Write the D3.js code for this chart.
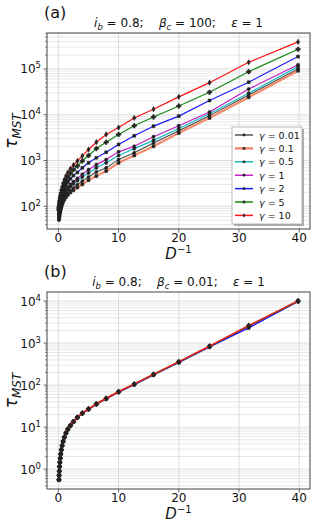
<!DOCTYPE html>
<html>
<head>
<meta charset="utf-8">
<script src="https://cdn.jsdelivr.net/npm/d3@7"></script>
<style>
  body { margin: 0; background: #fff; }
  text { font-family: "DejaVu Sans", sans-serif; fill: #111; }
</style>
</head>
<body>
<div id="chart"></div>
<script>
// x values: D^-1
const invD = [0.1, 0.126, 0.158, 0.2, 0.251, 0.316, 0.398, 0.501, 0.631, 0.794,
  1, 1.26, 1.58, 2, 2.51, 3.16, 3.98, 5.01, 6.31, 7.94, 10, 12.6, 15.8, 20, 25.1, 31.6, 39.8];

const gammas = ["0.01", "0.1", "0.5", "1", "2", "5", "10"];
const colors = ["#4a4a4a", "#f38b6c", "#16b8c2", "#c021c4", "#1a1aff", "#138913", "#ff1414"];
const widths = [1.1, 2.2, 1.2, 1.2, 1.2, 1.2, 1.2];

// panel (a): beta_c = 100
const tauA_g001 = [50, 54, 58, 63, 69, 76, 85, 95, 110, 126, 145, 166, 191, 219, 251, 295, 355, 437, 562, 692, 1047, 1479, 2399, 4467, 9550, 26920, 100000];
const tauA_g01  = [54, 58, 62, 68, 74, 81, 89, 100, 112, 126, 141, 158, 178, 200, 224, 257, 302, 372, 457, 589, 891, 1288, 2042, 3981, 8511, 23990, 91200];
const tauA_g05  = [65, 71, 78, 85, 93, 102, 115, 129, 145, 162, 182, 204, 234, 269, 309, 363, 437, 537, 692, 891, 1288, 1820, 2754, 5012, 10470, 29510, 112200];
const tauA_g1   = [69, 76, 83, 91, 100, 112, 126, 141, 158, 178, 200, 229, 263, 302, 347, 407, 501, 631, 813, 1047, 1549, 2042, 3311, 5754, 11480, 36310, 123000];
const tauA_g2   = [78, 85, 93, 105, 117, 132, 148, 170, 195, 224, 257, 295, 339, 398, 468, 550, 692, 891, 1148, 1514, 2239, 3467, 5623, 9333, 20420, 51290, 186200];
const tauA_g5   = [85, 93, 102, 115, 129, 148, 170, 195, 229, 269, 316, 372, 437, 525, 631, 759, 977, 1288, 1820, 2512, 3715, 5754, 8913, 15490, 30900, 87100, 269200];
const tauA_g10  = [95, 105, 115, 129, 145, 166, 191, 224, 263, 316, 380, 457, 550, 661, 794, 977, 1259, 1738, 2512, 3715, 5248, 8511, 13180, 24550, 50120, 139600, 389000];

// panel (b): beta_c = 0.01
const tauB_g001 = [0.56, 0.71, 0.89, 1.15, 1.45, 1.82, 2.29, 2.88, 3.63, 4.57, 5.75, 7.24, 8.91, 10.9, 13.5, 17.0, 21.4, 26.9, 35.5, 47.9, 69.2, 105, 178, 355, 832, 2512, 10000];
const tauB_g01  = [0.56, 0.71, 0.90, 1.15, 1.45, 1.83, 2.29, 2.89, 3.63, 4.58, 5.76, 7.25, 8.93, 10.9, 13.5, 17.1, 21.4, 26.9, 35.6, 48.0, 69.3, 105, 179, 356, 835, 2520, 10020];
const tauB_g05  = [0.57, 0.72, 0.90, 1.16, 1.46, 1.83, 2.30, 2.90, 3.64, 4.59, 5.77, 7.26, 8.95, 11.0, 13.6, 17.1, 21.5, 27.0, 35.6, 48.1, 69.5, 106, 179, 357, 838, 2490, 10050];
const tauB_g1   = [0.56, 0.71, 0.89, 1.15, 1.45, 1.82, 2.29, 2.88, 3.62, 4.56, 5.74, 7.22, 8.90, 10.9, 13.4, 17.0, 21.3, 26.8, 35.4, 47.7, 68.9, 104, 176, 352, 826, 2400, 9950];
const tauB_g2   = [0.55, 0.70, 0.88, 1.14, 1.44, 1.81, 2.28, 2.87, 3.61, 4.55, 5.72, 7.20, 8.87, 10.8, 13.4, 16.9, 21.2, 26.6, 35.1, 47.3, 68.2, 103, 174, 347, 812, 2290, 9850];
const tauB_g5   = [0.56, 0.71, 0.89, 1.15, 1.45, 1.82, 2.29, 2.88, 3.63, 4.57, 5.75, 7.24, 8.91, 10.9, 13.5, 17.0, 21.4, 26.9, 35.5, 47.9, 69.2, 105, 178, 355, 833, 2560, 10000];
const tauB_g10  = [0.57, 0.72, 0.90, 1.16, 1.46, 1.84, 2.31, 2.91, 3.66, 4.61, 5.80, 7.30, 9.00, 11.0, 13.6, 17.2, 21.6, 27.2, 35.9, 48.4, 70.0, 106, 181, 361, 850, 2630, 10100];

const seriesA = [tauA_g001, tauA_g01, tauA_g05, tauA_g1, tauA_g2, tauA_g5, tauA_g10];
const seriesB = [tauB_g001, tauB_g01, tauB_g05, tauB_g1, tauB_g2, tauB_g5, tauB_g10];
const xTicks = [0, 10, 20, 30, 40];

const width = 316, height = 528;
const left = 47, right = 310;
const symbols = [d3.symbolCircle, d3.symbolSquare, d3.symbolCircle, d3.symbolCircle,
  d3.symbolSquare, d3.symbolCross, d3.symbolDiamond];

var svg = d3.select("#chart").append("svg")
  .attr("width", width)
  .attr("height", height);

function drawPanel(cfg) {
  var g = svg.append("g");

  var xPad = (d3.max(invD) - d3.min(invD)) * 0.05;
  var x = d3.scaleLinear()
    .domain([d3.min(invD) - xPad, d3.max(invD) + xPad])
    .range([left, right]);

  var all = cfg.series.flat();
  var lo = Math.log10(d3.min(all)), hi = Math.log10(d3.max(all));
  var yPad = (hi - lo) * 0.05;
  var y = d3.scaleLog()
    .domain([Math.pow(10, lo - yPad), Math.pow(10, hi + yPad)])
    .range([cfg.bottom, cfg.top]);

  // grid: minor y, major y, x
  var e0 = Math.floor(lo - yPad), e1 = Math.ceil(hi + yPad);
  var minor = [], major = [];
  for (var e = e0; e <= e1; e++) {
    var p = Math.pow(10, e);
    if (p >= y.domain()[0] && p <= y.domain()[1]) major.push(p);
    for (var k = 2; k <= 9; k++) {
      var v = k * p;
      if (v >= y.domain()[0] && v <= y.domain()[1]) minor.push(v);
    }
  }
  g.selectAll(".ymin").data(minor).enter().append("line")
    .attr("x1", left).attr("x2", right)
    .attr("y1", d => y(d)).attr("y2", d => y(d))
    .style("stroke", "#e2e2e2").style("stroke-width", 0.8);
  g.selectAll(".ymaj").data(major).enter().append("line")
    .attr("x1", left).attr("x2", right)
    .attr("y1", d => y(d)).attr("y2", d => y(d))
    .style("stroke", "#d4d4d4").style("stroke-width", 0.8);
  g.selectAll(".xg").data(xTicks).enter().append("line")
    .attr("x1", d => x(d)).attr("x2", d => x(d))
    .attr("y1", cfg.top).attr("y2", cfg.bottom)
    .style("stroke", "#d4d4d4").style("stroke-width", 0.8);

  // lines + markers
  var line = d3.line().x((d, i) => x(invD[i])).y(d => y(d));
  cfg.series.forEach(function (s, j) {
    g.append("path")
      .datum(s)
      .attr("d", line)
      .style("fill", "none")
      .style("stroke", colors[j])
      .style("stroke-width", widths[j])
      .style("stroke-linejoin", "round");
    g.selectAll(".m" + j).data(s).enter().append("path")
      .attr("transform", (d, i) => "translate(" + x(invD[i]) + "," + y(d) + ")")
      .attr("d", d3.symbol().type(symbols[j]).size(symbols[j] === d3.symbolCross ? 11 : 8))
      .style("fill", "#222")
      .style("stroke", "#222")
      .style("stroke-width", 0.6);
  });

  // frame
  g.append("rect")
    .attr("x", left).attr("y", cfg.top)
    .attr("width", right - left).attr("height", cfg.bottom - cfg.top)
    .style("fill", "none").style("stroke", "#444").style("stroke-width", 1);

  // x ticks
  g.selectAll(".xt").data(xTicks).enter().append("line")
    .attr("x1", d => x(d)).attr("x2", d => x(d))
    .attr("y1", cfg.bottom).attr("y2", cfg.bottom + 3.5)
    .style("stroke", "#444").style("stroke-width", 0.8);
  g.selectAll(".xl").data(xTicks).enter().append("text")
    .attr("x", d => x(d)).attr("y", cfg.bottom + 12.5)
    .attr("text-anchor", "middle")
    .style("font-size", "12px")
    .text(d => d);

  // y ticks
  g.selectAll(".ytm").data(minor).enter().append("line")
    .attr("x1", left - 2).attr("x2", left)
    .attr("y1", d => y(d)).attr("y2", d => y(d))
    .style("stroke", "#444").style("stroke-width", 0.6);
  g.selectAll(".yt").data(major).enter().append("line")
    .attr("x1", left - 3.5).attr("x2", left)
    .attr("y1", d => y(d)).attr("y2", d => y(d))
    .style("stroke", "#444").style("stroke-width", 0.8);
  var yl = g.selectAll(".yl").data(major).enter().append("text")
    .attr("x", left - 6).attr("y", d => y(d) + 4.5)
    .attr("text-anchor", "end")
    .style("font-size", "12px");
  yl.append("tspan").text("10");
  yl.append("tspan").attr("dy", -5).style("font-size", "8.5px")
    .text(d => Math.round(Math.log10(d)));

  // panel label and title
  g.append("text").attr("x", 44).attr("y", cfg.top - 15.5)
    .style("font-size", "16px").text(cfg.label);
  var t = g.append("text")
    .attr("x", (left + right) / 2).attr("y", cfg.top - 6)
    .attr("text-anchor", "middle")
    .style("font-size", "12px").style("white-space", "pre");
  t.append("tspan").style("font-style", "italic").text("i");
  t.append("tspan").attr("dy", 2.5).style("font-size", "8.5px").style("font-style", "italic").text("b");
  t.append("tspan").attr("dy", -2.5).text(" = 0.8;    ");
  t.append("tspan").style("font-style", "italic").text("β");
  t.append("tspan").attr("dy", 2.5).style("font-size", "8.5px").style("font-style", "italic").text("c");
  t.append("tspan").attr("dy", -2.5).text(" = " + cfg.beta + ";    ");
  t.append("tspan").style("font-style", "italic").text("ε");
  t.append("tspan").text(" = 1");

  // axis labels
  var xlab = g.append("text")
    .attr("x", (left + right) / 2).attr("y", cfg.bottom + 29.5)
    .attr("text-anchor", "middle")
    .style("font-size", "15px");
  xlab.append("tspan").style("font-style", "italic").text("D");
  xlab.append("tspan").attr("dy", -5.5).style("font-size", "10px").text("\u22121");

  var ylab = g.append("text")
    .attr("transform", "translate(17," + (cfg.top + cfg.bottom) / 2 + ") rotate(-90)")
    .attr("text-anchor", "middle")
    .style("font-size", "17px");
  ylab.append("tspan").style("font-style", "italic").text("τ");
  ylab.append("tspan").attr("dy", 3.5).style("font-size", "12px").style("font-style", "italic").text("MST");

  if (cfg.legend) {
    var lx = 232, ly = 127, lw = 70, lh = 97;
    var lg = g.append("g");
    lg.append("rect").attr("x", lx + 2).attr("y", ly + 2).attr("width", lw).attr("height", lh)
      .style("fill", "#7a7a7a").style("opacity", 0.6);
    lg.append("rect").attr("x", lx).attr("y", ly).attr("width", lw).attr("height", lh)
      .style("fill", "#fff").style("stroke", "#aaa").style("stroke-width", 0.8);
    gammas.forEach(function (gm, j) {
      var cy = ly + 8 + j * 13.4;
      lg.append("line").attr("x1", lx + 3).attr("x2", lx + 21)
        .attr("y1", cy).attr("y2", cy)
        .style("stroke", colors[j]).style("stroke-width", widths[j] + 0.3);
      lg.append("path")
        .attr("transform", "translate(" + (lx + 12) + "," + cy + ")")
        .attr("d", d3.symbol().type(symbols[j]).size(6))
        .style("fill", "#222");
      var tx = lg.append("text").attr("x", lx + 27).attr("y", cy + 3.5)
        .style("font-size", "9.5px");
      tx.append("tspan").style("font-style", "italic").text("γ");
      tx.append("tspan").text(" = " + gm);
    });
  }
}

drawPanel({ series: seriesA, top: 33, bottom: 229, label: "(a)", beta: "100", legend: true });
drawPanel({ series: seriesB, top: 292, bottom: 489, label: "(b)", beta: "0.01", legend: false });
</script>
</body>
</html>
